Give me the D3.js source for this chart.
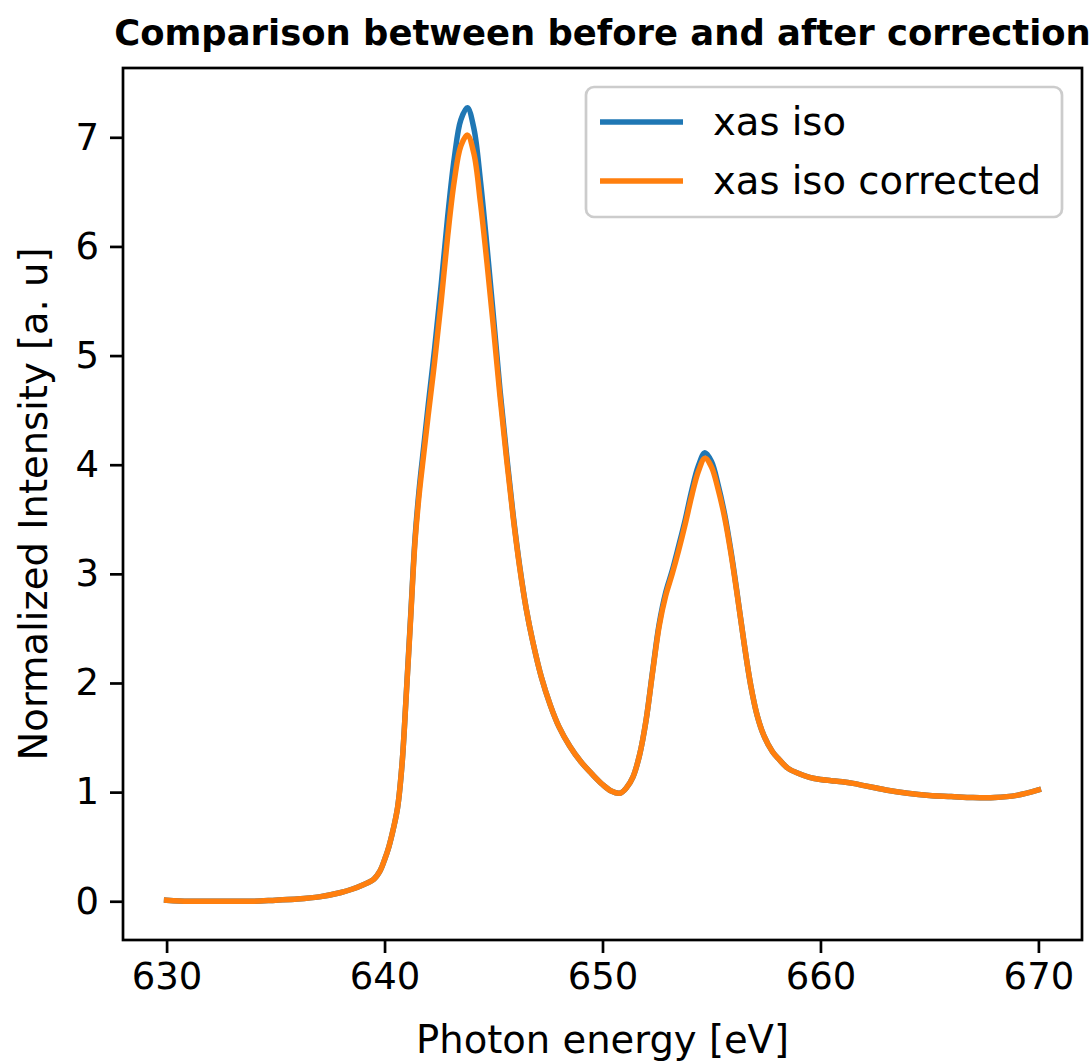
<!DOCTYPE html>
<html>
<head>
<meta charset="utf-8">
<script src="https://cdn.jsdelivr.net/npm/d3@7"></script>
<style>
  html, body { margin: 0; padding: 0; background: #ffffff; }
  svg { display: block; font-family: "DejaVu Sans", sans-serif; }
</style>
</head>
<body>
<svg id="chart" width="1091" height="1062"></svg>
<script>
// ---- data ----
const title = "Comparison between before and after correction";
const xLabel = "Photon energy [eV]";
const yLabel = "Normalized Intensity [a. u]";
const seriesNames = ["xas iso", "xas iso corrected"];
const xTicks = [630, 640, 650, 660, 670];
const yTicks = [0, 1, 2, 3, 4, 5, 6, 7];

const energy = [
  630, 631, 632, 633, 634, 635, 636, 637, 638, 638.5, 639, 639.5, 639.8, 640.0, 640.2, 640.4,
  640.6, 640.8, 641.0, 641.2, 641.4, 641.6, 641.8, 642.0, 642.3, 642.6, 642.9, 643.2, 643.5,
  643.8, 644.1, 644.4, 644.7, 645.0, 645.3, 645.6, 645.9, 646.2, 646.5, 646.8, 647.2, 647.6,
  648.0, 648.5, 649.0, 649.5, 650.0, 650.4, 650.8, 651.1, 651.4, 651.7, 652.0, 652.3, 652.6,
  652.9, 653.2, 653.5, 653.8, 654.1, 654.4, 654.7, 655.0, 655.3, 655.6, 655.9, 656.2, 656.5,
  656.8, 657.1, 657.4, 657.8, 658.1, 658.5, 659.0, 659.5, 660.0, 660.5, 661.0, 661.5, 662.0,
  662.5, 663.0, 664.0, 665.0, 666.0, 667.0, 668.0, 669.0, 670.0
];
const xasIsoCorrected = [
  0.01, 0.0, 0.0, 0.0, 0.0, 0.01, 0.02, 0.04, 0.08, 0.11, 0.15, 0.20, 0.28, 0.38, 0.50, 0.66,
  0.86, 1.25, 1.90, 2.60, 3.30, 3.75, 4.10, 4.45, 4.95, 5.50, 6.10, 6.60, 6.92,
  7.02, 6.85, 6.40, 5.85, 5.25, 4.62, 4.05, 3.52, 3.06, 2.68, 2.38, 2.05, 1.80,
  1.60, 1.42, 1.28, 1.17, 1.07, 1.01, 0.99, 1.04, 1.14, 1.34, 1.66, 2.10, 2.52,
  2.80, 3.00, 3.22, 3.46, 3.72, 3.94, 4.06, 3.98, 3.78, 3.52, 3.18, 2.78, 2.36,
  1.98, 1.70, 1.52, 1.37, 1.30, 1.22, 1.17, 1.135, 1.115, 1.105, 1.095, 1.08, 1.06,
  1.04, 1.02, 0.99, 0.97, 0.96, 0.95, 0.95, 0.97, 1.02
];
const xasIso = [
  0.01, 0.0, 0.0, 0.0, 0.0, 0.01, 0.02, 0.04, 0.08, 0.11, 0.15, 0.20, 0.28, 0.38, 0.50, 0.66,
  0.86, 1.25, 1.91, 2.62, 3.33, 3.80, 4.17, 4.54, 5.07, 5.65, 6.28, 6.81, 7.16,
  7.27, 7.08, 6.60, 6.00, 5.35, 4.68, 4.09, 3.54, 3.07, 2.68, 2.38, 2.05, 1.80,
  1.60, 1.42, 1.28, 1.17, 1.07, 1.01, 0.99, 1.04, 1.14, 1.34, 1.66, 2.11, 2.54,
  2.83, 3.03, 3.26, 3.50, 3.77, 3.99, 4.11, 4.03, 3.82, 3.55, 3.20, 2.79, 2.36,
  1.98, 1.70, 1.52, 1.37, 1.30, 1.22, 1.17, 1.135, 1.115, 1.105, 1.095, 1.08, 1.06,
  1.04, 1.02, 0.99, 0.97, 0.96, 0.95, 0.95, 0.97, 1.02
];
const colors = ["#1f77b4", "#ff7f0e"];

// ---- layout ----
const svg = d3.select("#chart");
const L = 123, R = 1082, T = 68, B = 940;
const x = d3.scaleLinear().domain([628, 672]).range([L, R]);
const y = d3.scaleLinear().domain([-0.355, 7.635]).range([B, T]);

const series = [xasIso, xasIsoCorrected].map((vals, i) => ({
  name: seriesNames[i],
  color: colors[i],
  points: energy.map((e, j) => [e, vals[j]])
}));

const line = d3.line()
  .x(d => x(d[0]))
  .y(d => y(d[1]))
  .curve(d3.curveCatmullRom.alpha(0.5));

svg.append("defs").append("clipPath").attr("id", "clip")
  .append("rect").attr("x", L).attr("y", T).attr("width", R - L).attr("height", B - T);

const plot = svg.append("g").attr("clip-path", "url(#clip)");
series.forEach(s => {
  plot.append("path")
    .attr("d", line(s.points))
    .attr("fill", "none")
    .attr("stroke", s.color)
    .attr("stroke-width", 5.5)
    .attr("stroke-linecap", "square")
    .attr("stroke-linejoin", "round");
});

// axes
const tickFont = 37;
const xAxis = d3.axisBottom(x).tickValues(xTicks).tickSize(13).tickPadding(10).tickFormat(d3.format("d"));
const yAxis = d3.axisLeft(y).tickValues(yTicks).tickSize(13).tickPadding(11).tickFormat(d3.format("d"));

const gx = svg.append("g").attr("transform", `translate(0,${B})`).call(xAxis);
const gy = svg.append("g").attr("transform", `translate(${L},0)`).call(yAxis);
[gx, gy].forEach(g => {
  g.select(".domain").remove();
  g.selectAll(".tick line").attr("stroke", "#000").attr("stroke-width", 2.7);
  g.selectAll(".tick text").attr("fill", "#000")
    .style("font-family", "'DejaVu Sans', sans-serif")
    .style("font-size", tickFont + "px");
});

// frame
svg.append("rect")
  .attr("x", L).attr("y", T).attr("width", R - L).attr("height", B - T)
  .attr("fill", "none").attr("stroke", "#000").attr("stroke-width", 2.7);

// labels
svg.append("text")
  .attr("x", (L + R) / 2).attr("y", 1053)
  .attr("text-anchor", "middle")
  .style("font-size", "38.5px")
  .text(xLabel);

svg.append("text")
  .attr("transform", `translate(47,${(T + B) / 2}) rotate(-90)`)
  .attr("text-anchor", "middle")
  .style("font-size", "38.5px")
  .text(yLabel);

svg.append("text")
  .attr("x", (L + R) / 2).attr("y", 45)
  .attr("text-anchor", "middle")
  .style("font-size", "35.4px")
  .style("font-weight", "bold")
  .text(title);

// legend
const lg = svg.append("g");
lg.append("rect")
  .attr("x", 586).attr("y", 87).attr("width", 476).attr("height", 130)
  .attr("rx", 8).attr("ry", 8)
  .attr("fill", "#fff").attr("fill-opacity", 0.8)
  .attr("stroke", "#cccccc").attr("stroke-width", 2.7);
series.forEach((s, i) => {
  const cy = 122 + i * 59;
  lg.append("line")
    .attr("x1", 600).attr("x2", 683).attr("y1", cy).attr("y2", cy)
    .attr("stroke", s.color).attr("stroke-width", 5.5);
  lg.append("text")
    .attr("x", 713).attr("y", cy + 13)
    .style("font-size", "38.5px")
    .text(s.name);
});
</script>
</body>
</html>
